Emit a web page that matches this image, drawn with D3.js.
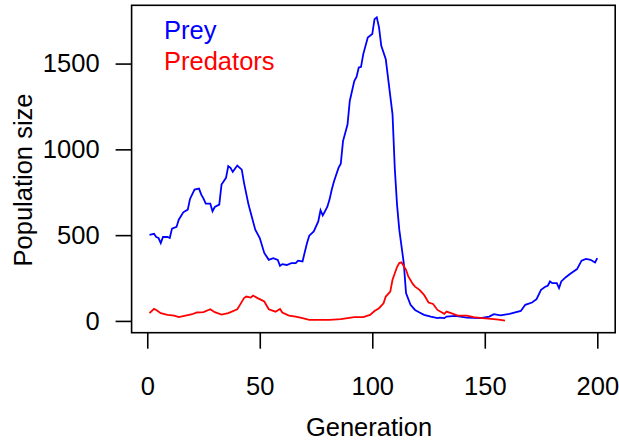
<!DOCTYPE html>
<html lang="en">
<head>
    <meta charset="UTF-8"/>
    <title>Prey and Predators</title>
    <script src="https://d3js.org/d3.v7.min.js"></script>
    <style>
        body { margin: 0; background: #ffffff; }
        svg text { font-family: "Liberation Sans", Arial, Helvetica, sans-serif; }
    </style>
</head>
<body>

    <div id="chart"></div>

    <script>
        // Prey population by generation
        var preyGen = [1, 3, 4, 5, 6, 7, 9, 10, 11, 13, 14, 16, 18, 19, 21, 23, 24, 25, 26, 28,
                       29, 30, 32, 33, 35, 36, 37, 38, 40, 42, 43, 45, 48, 50, 52, 54, 56, 58, 59, 60,
                       62, 64, 66, 67, 69, 71, 72, 74, 76, 77, 78, 80, 81, 82, 83, 85, 86, 87, 89, 90,
                       92, 93, 94, 95, 96, 98, 100, 101, 102, 103, 104, 106, 107, 109, 110, 111, 112, 114, 115, 117,
                       119, 121, 123, 126, 129, 130, 132, 133, 137, 142, 148, 152, 154, 157, 161, 166, 168, 171, 173, 175,
                       177, 178, 179, 180, 182, 183, 184, 186, 188, 191, 193, 195, 197, 199, 200];
        var preyPop = [501, 508, 489, 483, 454, 489, 489, 483, 538, 548, 590, 633, 649, 711, 766, 771, 736, 713, 684, 684,
                       639, 664, 678, 795, 834, 902, 892, 869, 906, 882, 805, 678, 532, 483, 396, 356, 366, 356, 321, 331,
                       326, 337, 337, 351, 347, 454, 497, 522, 580, 645, 615, 664, 707, 766, 814, 892, 916, 1048, 1145, 1282,
                       1398, 1422, 1477, 1481, 1555, 1652, 1672, 1759, 1769, 1711, 1603, 1525, 1418, 1204, 890, 678, 532, 337, 162, 94,
                       64, 49, 35, 25, 16, 19, 16, 25, 29, 19, 16, 25, 39, 32, 41, 58, 94, 107, 127, 181,
                       200, 205, 230, 220, 220, 191, 230, 255, 275, 302, 351, 361, 356, 341, 366];

        // Predator population by generation
        var predGen = [1, 3, 4, 6, 9, 12, 14, 17, 20, 22, 25, 28, 30, 33, 36, 40, 41, 43, 44, 46,
                       47, 49, 50, 52, 54, 57, 59, 60, 63, 66, 69, 72, 77, 81, 86, 89, 92, 96, 99, 101,
                       103, 105, 106, 108, 109, 111, 112, 113, 115, 116, 118, 119, 121, 123, 125, 127, 129, 132, 133, 135,
                       138, 142, 145, 149, 154, 157, 159];
        var predPop = [45, 70, 64, 45, 35, 31, 22, 31, 39, 49, 51, 68, 51, 37, 45, 68, 89, 133, 142, 136,
                       148, 133, 127, 113, 68, 54, 70, 49, 31, 25, 16, 6, 6, 6, 10, 16, 22, 22, 35, 58,
                       74, 103, 142, 171, 240, 314, 337, 341, 298, 259, 216, 200, 181, 152, 107, 99, 64, 41, 54, 45,
                       31, 31, 22, 16, 10, 6, 2];

        var xTicks = [0, 50, 100, 150, 200];
        var yTicks = [0, 500, 1000, 1500];

        var w = 619;
        var h = 440;
        // plot box edges
        var boxL = 131.6, boxR = 615.2, boxT = 5.3, boxB = 332.7;

        var prey = preyGen.map(function(g, i) { return [g, preyPop[i]]; });
        var pred = predGen.map(function(g, i) { return [g, predPop[i]]; });

        // R style 4% padding on the data range
        var xMin = 1, xMax = 200;
        var yMin = 2, yMax = 1769;
        var xPad = (xMax - xMin) * 0.04, yPad = (yMax - yMin) * 0.04;

        var xScale = d3.scaleLinear()
                        .domain([xMin - xPad, xMax + xPad])
                        .range([boxL, boxR]);

        var yScale = d3.scaleLinear()
                        .domain([yMin - yPad, yMax + yPad])
                        .range([boxB, boxT]);

        var svg = d3.select("#chart")
                    .append("svg")
                    .attr("width", w)
                    .attr("height", h);

        var line = d3.line()
                     .x(function(d) { return xScale(d[0]); })
                     .y(function(d) { return yScale(d[1]); });

        svg.append("path")
           .datum(prey)
           .attr("d", line)
           .attr("fill", "none")
           .attr("stroke", "#0000ff")
           .attr("stroke-width", 1.8);

        svg.append("path")
           .datum(pred)
           .attr("d", line)
           .attr("fill", "none")
           .attr("stroke", "#ff0000")
           .attr("stroke-width", 1.8);

        // Box
        svg.append("rect")
           .attr("x", boxL)
           .attr("y", boxT)
           .attr("width", boxR - boxL)
           .attr("height", boxB - boxT)
           .attr("fill", "none")
           .attr("stroke", "#000")
           .attr("stroke-width", 1.6);

        // X axis
        var xAxis = d3.axisBottom(xScale)
                      .tickValues(xTicks)
                      .tickFormat(d3.format("d"))
                      .tickSize(16)
                      .tickSizeOuter(0)
                      .tickPadding(28);
        var gx = svg.append("g")
           .attr("transform", "translate(0," + boxB + ")")
           .call(xAxis);
        gx.select(".domain").remove();

        // Y axis
        var yAxis = d3.axisLeft(yScale)
                      .tickValues(yTicks)
                      .tickFormat(d3.format("d"))
                      .tickSize(16)
                      .tickSizeOuter(0)
                      .tickPadding(16);
        var gy = svg.append("g")
           .attr("transform", "translate(" + boxL + ",0)")
           .call(yAxis);
        gy.select(".domain").remove();

        svg.selectAll(".tick line")
           .attr("stroke", "#000")
           .attr("stroke-width", 1.6);
        svg.selectAll(".tick text")
           .attr("fill", "#000")
           .attr("font-family", "Liberation Sans, Arial, sans-serif")
           .attr("font-size", "25.5px");

        // Axis titles
        svg.append("text")
           .attr("x", 369)
           .attr("y", 436)
           .attr("text-anchor", "middle")
           .attr("font-size", "25.5px")
           .text("Generation");

        svg.append("text")
           .attr("transform", "rotate(-90)")
           .attr("x", -180)
           .attr("y", 31.5)
           .attr("text-anchor", "middle")
           .attr("font-size", "25.5px")
           .text("Population size");

        // Legend
        svg.append("text")
           .attr("x", 164)
           .attr("y", 38.5)
           .attr("fill", "#0000ff")
           .attr("font-size", "25.5px")
           .text("Prey");

        svg.append("text")
           .attr("x", 164)
           .attr("y", 69.5)
           .attr("fill", "#ff0000")
           .attr("font-size", "25.5px")
           .text("Predators");
    </script>

</body>
</html>
